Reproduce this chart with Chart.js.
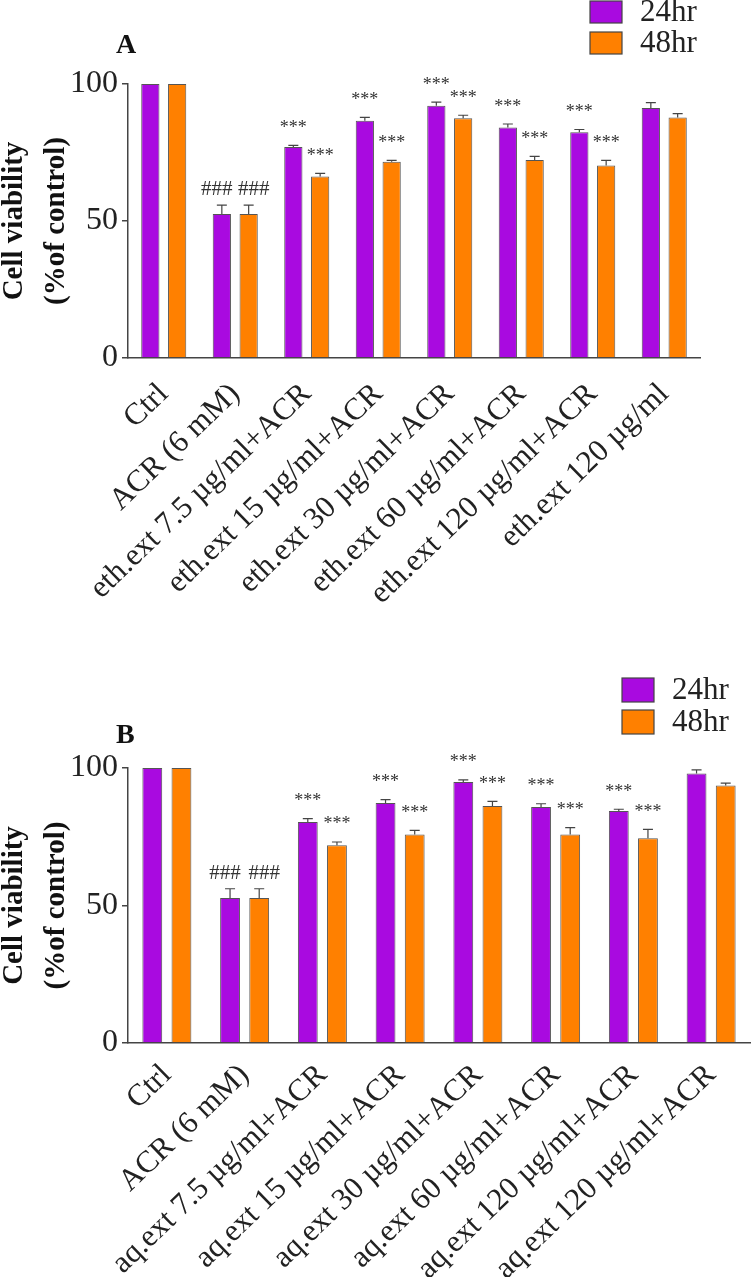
<!DOCTYPE html>
<html>
<head>
<meta charset="utf-8">
<script src="https://cdn.jsdelivr.net/npm/chart.js@4.4.1/dist/chart.umd.min.js"></script>
<style>
  body { margin: 0; background: #fff; }
  .panel { position: absolute; left: 0; }
</style>
</head>
<body>
<div class="panel" style="top:0"><canvas id="chartA" width="751" height="620"></canvas></div>
<div class="panel" style="top:620px"><canvas id="chartB" width="751" height="657"></canvas></div>
<script>
// panel A - ethanolic extract
let labelsA = ['Ctrl', 'ACR (6 mM)', 'eth.ext 7.5 µg/ml+ACR', 'eth.ext 15 µg/ml+ACR',
  'eth.ext 30 µg/ml+ACR', 'eth.ext 60 µg/ml+ACR', 'eth.ext 120 µg/ml+ACR', 'eth.ext 120 µg/ml'];
let a24 = [100, 52.6, 77.0, 86.6, 92.1, 84.1, 82.4, 91.2];
let a24err = [0, 3.2, 0.6, 1.2, 1.3, 1.3, 1.0, 2.0];
let a48 = [100, 52.6, 66.2, 71.6, 87.5, 72.3, 70.3, 87.8];
let a48err = [0, 3.2, 1.2, 0.5, 1.1, 1.3, 1.8, 1.4];
let marksA = ['', '###', '***', '***', '***', '***', '***', ''];

// panel B - aqueous extract
let labelsB = ['Ctrl', 'ACR (6 mM)', 'aq.ext 7.5 µg/ml+ACR', 'aq.ext 15 µg/ml+ACR',
  'aq.ext 30 µg/ml+ACR', 'aq.ext 60 µg/ml+ACR', 'aq.ext 120 µg/ml+ACR', 'aq.ext 120 µg/ml+ACR'];
let b24 = [100, 52.7, 80.4, 87.3, 94.9, 85.8, 84.4, 98.0];
let b24err = [0, 3.4, 1.2, 1.2, 0.8, 1.2, 0.6, 1.3];
let b48 = [100, 52.7, 71.9, 75.8, 86.2, 75.8, 74.5, 93.6];
let b48err = [0, 3.4, 1.2, 1.5, 1.7, 2.5, 3.2, 0.9];
let marksB = ['', '###', '***', '***', '***', '***', '***', ''];

let yTicks = [0, 50, 100];

const serif = '"Liberation Serif", "Times New Roman", serif';
const purple = '#a90ae0';
const orange = '#ff8000';

// error bars (SEM, upward only) and significance marks
const errorBars = {
  id: 'errorBars',
  afterDatasetsDraw(chart) {
    const ctx = chart.ctx;
    const y = chart.scales.y;
    ctx.save();
    chart.data.datasets.forEach((ds, i) => {
      const meta = chart.getDatasetMeta(i);
      meta.data.forEach((bar, j) => {
        const err = ds.errors[j];
        const top = y.getPixelForValue(ds.data[j] + err);
        if (err > 0) {
          ctx.strokeStyle = '#444';
          ctx.lineWidth = 1.2;
          ctx.beginPath();
          ctx.moveTo(bar.x, bar.y);
          ctx.lineTo(bar.x, top);
          ctx.moveTo(bar.x - 5, top);
          ctx.lineTo(bar.x + 5, top);
          ctx.stroke();
        }
        const mark = ds.marks[j];
        if (mark) {
          const hash = mark[0] === '#';
          ctx.font = (hash ? '21px ' : '18px ') + serif;
          ctx.fillStyle = '#333';
          ctx.textAlign = 'center';
          ctx.textBaseline = 'alphabetic';
          let shift = hash ? (i === 0 ? -5 : 5) : 0;
          ctx.fillText(mark, bar.x + shift, top - (hash ? 10 : 12.5));
        }
      });
    });
    ctx.restore();
  }
};

// legend boxes stacked vertically + panel letter
const sideLegend = {
  id: 'sideLegend',
  afterDraw(chart, args, opts) {
    const ctx = chart.ctx;
    ctx.save();
    chart.data.datasets.forEach((ds, i) => {
      let top = opts.y + i * opts.pitch;
      ctx.fillStyle = ds.backgroundColor;
      ctx.fillRect(opts.x, top, opts.w, opts.h);
      ctx.strokeStyle = '#444';
      ctx.lineWidth = 1.2;
      ctx.strokeRect(opts.x, top, opts.w, opts.h);
      ctx.fillStyle = '#222';
      ctx.font = '31px ' + serif;
      ctx.textAlign = 'left';
      ctx.textBaseline = 'middle';
      ctx.fillText(ds.label, opts.x + opts.w + 18, top + opts.h / 2 + 1);
    });
    ctx.font = 'bold 28px ' + serif;
    ctx.fillStyle = '#111';
    ctx.textAlign = 'left';
    ctx.textBaseline = 'alphabetic';
    ctx.fillText(opts.tag, opts.tagX, opts.tagY);
    ctx.restore();
  }
};

function makeChart(id, labels, v24, e24, v48, e48, marks, lay) {
  let ctx = document.getElementById(id).getContext('2d');
  return new Chart(ctx, {
    type: 'bar',
    data: {
      labels: labels,
      datasets: [{
        label: '24hr',
        data: v24,
        errors: e24,
        marks: marks,
        backgroundColor: purple,
        borderColor: '#555',
        borderWidth: 1
      }, {
        label: '48hr',
        data: v48,
        errors: e48,
        marks: marks,
        backgroundColor: orange,
        borderColor: '#555',
        borderWidth: 1
      }]
    },
    options: {
      responsive: false,
      animation: false,
      layout: { padding: { top: lay.top, right: lay.right, left: 0, bottom: 0 } },
      categoryPercentage: 0.75,
      barPercentage: 0.68,
      plugins: {
        legend: { display: false },
        tooltip: { enabled: false },
        sideLegend: lay.legend
      },
      scales: {
        x: {
          grid: { display: false },
          border: { display: true, color: '#444', width: 1.5 },
          ticks: {
            autoSkip: false,
            minRotation: 44,
            maxRotation: 44,
            padding: lay.labelPad,
            color: '#222',
            font: { family: serif, size: 31 }
          },
          afterFit: function(scale) { scale.height = lay.xHeight; }
        },
        y: {
          min: 0,
          max: 100,
          afterBuildTicks: function(scale) {
            scale.ticks = yTicks.map(v => ({ value: v }));
          },
          grid: { display: true, drawOnChartArea: false, drawTicks: true, tickLength: 6, color: '#444', lineWidth: 1.5 },
          border: { display: true, color: '#444', width: 1.5 },
          ticks: {
            padding: 4,
            color: '#222',
            font: { family: serif, size: 32 }
          },
          title: {
            display: true,
            text: ['Cell viability', '(%of control)'],
            color: '#111',
            padding: { top: -7, bottom: 0 },
            font: { family: serif, size: 29, weight: 'bold', lineHeight: 1.45 }
          },
          afterFit: function(scale) { scale.width = 128; }
        }
      }
    },
    plugins: [errorBars, sideLegend]
  });
}

let chartA = makeChart('chartA', labelsA, a24, a24err, a48, a48err, marksA, {
  top: 84, right: 51, xHeight: 262, labelPad: 10,
  legend: { x: 590, y: 1, w: 32, h: 22, pitch: 31, tag: 'A', tagX: 116, tagY: 53 }
});

let chartB = makeChart('chartB', labelsB, b24, b24err, b48, b48err, marksB, {
  top: 148, right: 1, xHeight: 234, labelPad: 6,
  legend: { x: 622, y: 58, w: 32, h: 24, pitch: 32, tag: 'B', tagX: 116, tagY: 123 }
});
</script>
</body>
</html>
